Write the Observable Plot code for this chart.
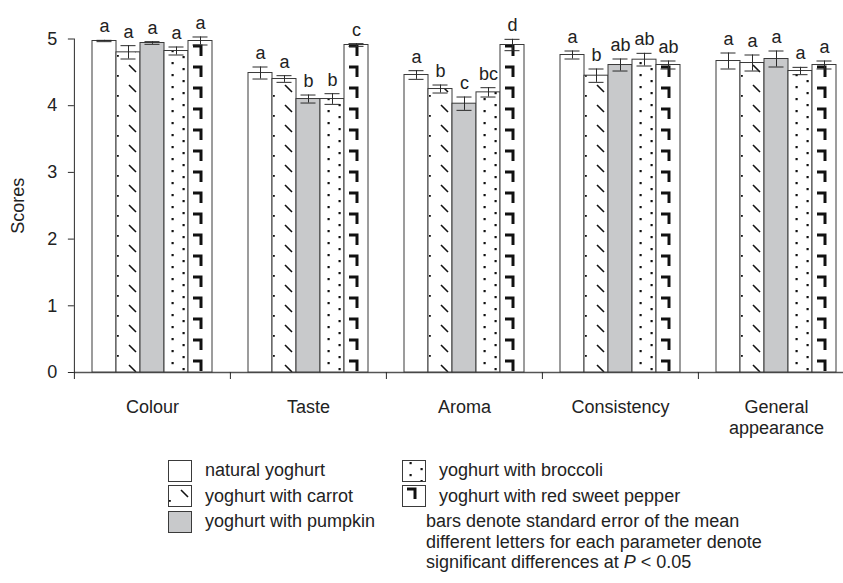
<!DOCTYPE html>
<html>
<head>
<meta charset="utf-8">
<script src="https://cdn.jsdelivr.net/npm/d3@7"></script>
<script src="https://cdn.jsdelivr.net/npm/@observablehq/plot@0.6"></script>
<style>
  body { margin: 0; background: #fff; font-family: "Liberation Sans", Arial, sans-serif; color: #222; }
  #wrap { width: 843px; }
  #legend { display: grid; grid-template-columns: 168px 24px 13px 197px 24px 13px 1fr; grid-auto-rows: 25.5px; font-size: 18px; align-items: center; }
  #legend svg { display: block; }
  .note { grid-column: 6 / 8; grid-row: 3 / span 3; align-self: start; line-height: 20.5px; padding-top: 2px; }
</style>
</head>
<body>
<svg width="0" height="0" style="position:absolute">
  <defs>
    <pattern id="pat-carrot" patternUnits="userSpaceOnUse" x="73" y="0" width="24" height="20">
      <rect width="24" height="20" fill="white"/>
      <path d="M13,5 L20,12" stroke="#111" stroke-width="1.6" fill="none"/>
      <rect x="1" y="15" width="1.8" height="1.8" fill="#111"/>
    </pattern>
    <pattern id="pat-broccoli" patternUnits="userSpaceOnUse" x="73" y="0" width="24" height="12">
      <rect width="24" height="12" fill="white"/>
      <rect x="7.5" y="2" width="2.2" height="2.2" fill="#111"/>
      <rect x="18.5" y="8" width="2.2" height="2.2" fill="#111"/>
    </pattern>
    <pattern id="pat-pepper" patternUnits="userSpaceOnUse" x="73" y="0" width="24" height="21">
      <rect width="24" height="21" fill="white"/>
      <path d="M5,4 H13 V14" stroke="#111" stroke-width="3" fill="none"/>
    </pattern>
  </defs>
</svg>
<div id="wrap">
  <div id="chart"></div>
  <div id="legend"></div>
</div>
<script>
// ---- data ----
const parameters = ["Colour", "Taste", "Aroma", "Consistency", "General appearance"];
const products = ["natural yoghurt", "yoghurt with carrot", "yoghurt with pumpkin", "yoghurt with broccoli", "yoghurt with red sweet pepper"];
const means = [
  [4.97, 4.80, 4.94, 4.82, 4.97],
  [4.49, 4.40, 4.10, 4.10, 4.91],
  [4.46, 4.25, 4.03, 4.20, 4.91],
  [4.76, 4.45, 4.61, 4.69, 4.61],
  [4.67, 4.64, 4.70, 4.52, 4.61]
];
const errors = [
  [0.01, 0.10, 0.02, 0.06, 0.06],
  [0.09, 0.05, 0.06, 0.08, 0.02],
  [0.065, 0.06, 0.10, 0.07, 0.085],
  [0.06, 0.10, 0.09, 0.095, 0.06],
  [0.12, 0.12, 0.12, 0.055, 0.06]
];
const letters = [
  ["a", "a", "a", "a", "a"],
  ["a", "a", "b", "b", "c"],
  ["a", "b", "c", "bc", "d"],
  ["a", "b", "ab", "ab", "ab"],
  ["a", "a", "a", "a", "a"]
];
const yTicks = [0, 1, 2, 3, 4, 5];
const fills = ["white", "url(#pat-carrot)", "#c8c9cb", "url(#pat-broccoli)", "url(#pat-pepper)"];
const notes = ["bars denote standard error of the mean", "different letters for each parameter denote", "significant differences at <i>P</i> &lt; 0.05"];

// ---- table ----
const data = [];
parameters.forEach((p, i) => products.forEach((q, j) => data.push({
  parameter: p, product: q, mean: means[i][j], se: errors[i][j], letter: letters[i][j]
})));

const W = 843, ML = 73, MR = -11, MT = 38.5, MB = 86, H = 458;
const PI = 0.232, PO = 0.116;
const step = (W - ML - MR) / parameters.length;
const padOut = PO * step;
const ink = "#2a2a2a";

const chart = Plot.plot({
  width: W, height: H,
  marginLeft: ML, marginRight: MR, marginTop: MT, marginBottom: MB,
  style: { fontFamily: "'Liberation Sans', Arial, sans-serif", fontSize: "18px", color: "#222", background: "white" },
  fx: { domain: parameters, paddingInner: PI, paddingOuter: PO, label: null },
  x: { domain: products, padding: 0, axis: null },
  y: { domain: [0, 5], axis: null },
  color: { domain: products, range: fills },
  marks: [
    Plot.ruleY([0], { stroke: "#555", strokeWidth: 1.5, insetLeft: -padOut, insetRight: -padOut }),
    Plot.barY(data, { fx: "parameter", x: "product", y: "mean", fill: "product", stroke: "#3a3a3a", strokeWidth: 1, inset: 0 }),
    Plot.ruleX(data, { fx: "parameter", x: "product", y1: d => d.mean - d.se, y2: d => d.mean + d.se, stroke: ink, strokeWidth: 1 }),
    Plot.tickY(data, { fx: "parameter", x: "product", y: d => d.mean + d.se, inset: 4.5, stroke: ink, strokeWidth: 1 }),
    Plot.tickY(data, { fx: "parameter", x: "product", y: d => d.mean - d.se, inset: 4.5, stroke: ink, strokeWidth: 1 }),
    Plot.text(data, { fx: "parameter", x: "product", y: d => d.mean + d.se, text: "letter", lineAnchor: "bottom", dy: -8, fill: "#222" }),
    Plot.frame({ anchor: "left", facetAnchor: "left", dx: -padOut, stroke: ink, strokeWidth: 1 }),
    Plot.axisY({ ticks: yTicks, tickFormat: d3.format("d"), tickSize: 6, tickPadding: 11, dx: -padOut, stroke: ink, label: "Scores", labelAnchor: "center", labelOffset: 63 + padOut, labelArrow: "none" }),
    Plot.axisFx({ anchor: "bottom", tickSize: 0, tickPadding: 26, lineWidth: 7, lineHeight: 1.15, label: null }),
    Plot.axisFx({ anchor: "bottom", tickSize: 7, text: null, dx: -step / 2, label: null, stroke: ink })
  ]
});
document.getElementById("chart").appendChild(chart);

// ---- legend ----
const legend = document.getElementById("legend");
function swatch(fill) {
  return `<svg width="24" height="22" viewBox="73 0 24 22"><rect x="73.5" y="0.5" width="23" height="21" fill="${fill}" stroke="#3a3a3a"/></svg>`;
}
const order = [[0, 3], [1, 4], [2, null]];
let html = "";
order.forEach(([a, b], r) => {
  html += `<div style="grid-row:${r + 1};grid-column:2">${swatch(fills[a])}</div>`;
  html += `<div style="grid-row:${r + 1};grid-column:4">${products[a]}</div>`;
  if (b !== null) {
    html += `<div style="grid-row:${r + 1};grid-column:5">${swatch(fills[b])}</div>`;
    html += `<div style="grid-row:${r + 1};grid-column:7">${products[b]}</div>`;
  }
});
html += `<div class="note">${notes.join("<br>")}</div>`;
legend.innerHTML = html;
</script>
</body>
</html>
